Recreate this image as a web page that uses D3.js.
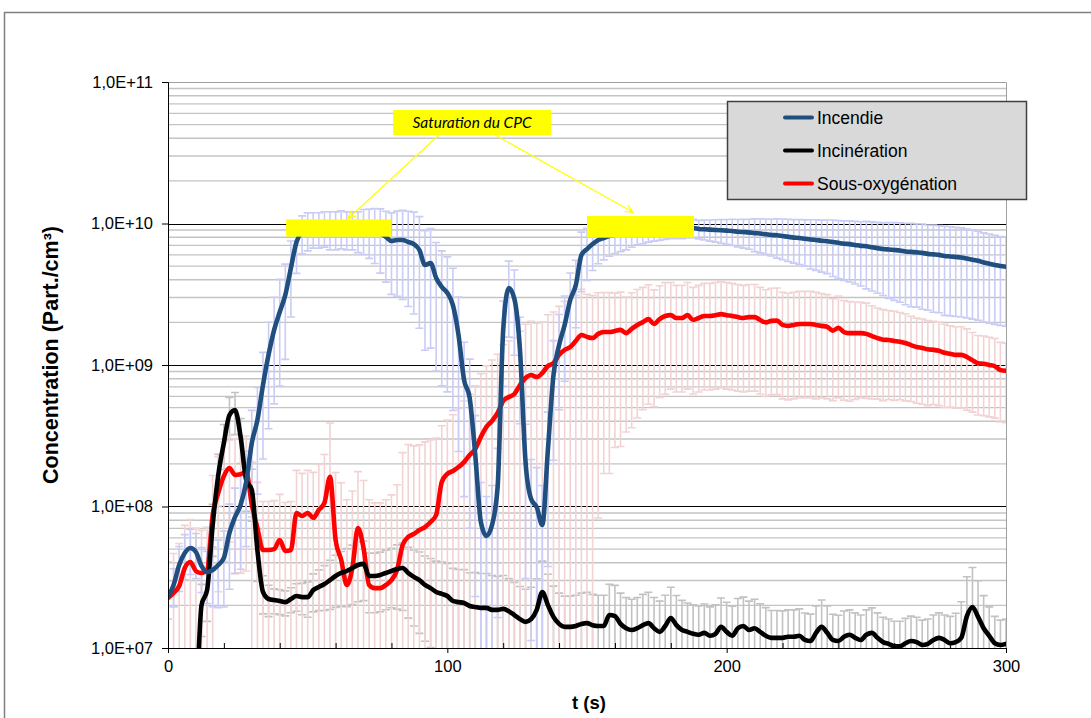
<!DOCTYPE html>
<html><head><meta charset="utf-8">
<script src="https://cdn.jsdelivr.net/npm/d3@7"></script>
<style>body{margin:0;background:#fff} svg{display:block}</style>
</head><body>
<svg id="c" width="1091" height="718"></svg>
<script>
// ---------- DATA ----------
const times = [0,2,4,6,8,10,12,14,16,18,20,22,24,26,28,30,32,34,36,38,40,42,44,46,48,50,52,54,56,58,60,62,64,66,68,70,72,74,76,78,80,82,84,86,88,90,92,94,96,98,100,102,104,106,108,110,112,114,116,118,120,122,124,126,128,130,132,134,136,138,140,142,144,146,148,150,152,154,156,158,160,162,164,166,168,170,172,174,176,178,180,182,184,186,188,190,192,194,196,198,200,202,204,206,208,210,212,214,216,218,220,222,224,226,228,230,232,234,236,238,240,242,244,246,248,250,252,254,256,258,260,262,264,266,268,270,272,274,276,278,280,282,284,286,288,290,292,294,296,298,300];

const seriesNames = ["Incendie","Incinération","Sous-oxygénation"];

const incendie = [
2.29e7,2.79e7,3.86e7,4.69e7,5.09e7,4.77e7,3.8e7,3.44e7,3.56e7,3.86e7,
4.33e7,6.5e7,8.43e7,1.03e8,1.49e8,2.81e8,4.08e8,7.22e8,1.18e9,1.77e9,
2.37e9,3.13e9,4.85e9,7.4e9,8.71e9,9.15e9,9.3e9,9.3e9,9.45e9,9.3e9,
9.3e9,9.45e9,9.3e9,9.3e9,9.15e9,9.3e9,9.15e9,9.0e9,8.57e9,8.03e9,
7.52e9,7.64e9,7.64e9,7.4e9,7.16e9,6.5e9,5.09e9,5.26e9,4.12e9,3.56e9,
3.23e9,2.65e9,1.63e9,7.83e8,5.85e8,2.31e8,7.77e7,6.19e7,7.4e7,1.37e8,
1.77e9,3.5e9,2.93e9,1.28e9,2.06e8,1.13e8,9.9e7,7.4e7,2.51e8,8.5e8,
1.38e9,1.92e9,2.88e9,3.67e9,5.99e9,6.6e9,7.16e9,7.64e9,7.9e9,8.16e9,
8.3e9,8.44e9,8.57e9,8.71e9,8.85e9,9.0e9,9.0e9,9.15e9,9.15e9,9.3e9,
9.3e9,9.3e9,9.3e9,9.3e9,9.3e9,9.15e9,9.1e9,9.05e9,9.0e9,8.95e9,
8.9e9,8.85e9,8.75e9,8.7e9,8.65e9,8.55e9,8.5e9,8.4e9,8.3e9,8.25e9,
8.15e9,8.05e9,7.95e9,7.9e9,7.8e9,7.7e9,7.65e9,7.55e9,7.5e9,7.4e9,
7.3e9,7.2e9,7.15e9,7.05e9,6.95e9,6.9e9,6.8e9,6.7e9,6.6e9,6.55e9,
6.5e9,6.45e9,6.35e9,6.3e9,6.25e9,6.2e9,6.1e9,6.05e9,6.0e9,5.9e9,
5.85e9,5.8e9,5.75e9,5.65e9,5.55e9,5.45e9,5.3e9,5.2e9,5.1e9,5.0e9,
4.95e9];

const incineration = [
5e6,5e6,5e6,5e6,5e6,5e6,2.01e7,2.57e7,7.4e7,1.67e8,
2.81e8,4.43e8,4.81e8,3.1e8,1.54e8,1.31e8,4.93e7,2.49e7,2.22e7,2.18e7,
2.15e7,2.11e7,2.22e7,2.33e7,2.29e7,2.29e7,2.57e7,2.7e7,2.83e7,3.02e7,
3.23e7,3.39e7,3.5e7,3.68e7,3.86e7,3.93e7,3.23e7,3.23e7,3.28e7,3.39e7,
3.5e7,3.62e7,3.68e7,3.39e7,3.18e7,3.02e7,2.79e7,2.65e7,2.49e7,2.41e7,
2.33e7,2.15e7,2.11e7,2.08e7,1.98e7,1.95e7,1.92e7,1.92e7,1.86e7,1.86e7,
1.89e7,1.82e7,1.71e7,1.6e7,1.53e7,1.6e7,1.86e7,2.49e7,2.01e7,1.66e7,
1.48e7,1.41e7,1.41e7,1.43e7,1.48e7,1.5e7,1.45e7,1.43e7,1.43e7,1.71e7,
1.68e7,1.48e7,1.38e7,1.34e7,1.38e7,1.45e7,1.5e7,1.38e7,1.3e7,1.43e7,
1.63e7,1.45e7,1.34e7,1.3e7,1.26e7,1.24e7,1.28e7,1.22e7,1.26e7,1.41e7,
1.3e7,1.22e7,1.38e7,1.43e7,1.34e7,1.38e7,1.3e7,1.22e7,1.18e7,1.18e7,
1.18e7,1.2e7,1.2e7,1.22e7,1.14e7,1.12e7,1.28e7,1.41e7,1.28e7,1.14e7,
1.12e7,1.2e7,1.24e7,1.18e7,1.14e7,1.24e7,1.28e7,1.18e7,1.1e7,1.07e7,
1.03e7,1.03e7,1.08e7,1.12e7,1.1e7,1.05e7,1.07e7,1.14e7,1.18e7,1.14e7,
1.08e7,1.1e7,1.18e7,1.68e7,1.95e7,1.66e7,1.38e7,1.22e7,1.08e7,1.05e7,
1.07e7];

const sousOxygenation = [
2.26e7,2.45e7,2.74e7,3.68e7,4.05e7,3.5e7,3.39e7,3.56e7,8.71e7,1.25e8,
1.64e8,1.87e8,1.67e8,1.69e8,1.75e8,1.03e8,7.05e7,4.93e7,4.93e7,5.0e7,
5.8e7,4.85e7,4.93e7,9.0e7,8.57e7,9.0e7,8.3e7,9.45e7,1.06e8,1.62e8,
5.8e7,4.2e7,2.79e7,3.68e7,7.05e7,5.09e7,2.79e7,2.65e7,2.65e7,2.79e7,
3.02e7,3.56e7,5.34e7,6.09e7,6.39e7,6.82e7,7.16e7,7.77e7,8.71e7,1.49e8,
1.70e8,1.78e8,1.90e8,2.06e8,2.31e8,2.55e8,3.10e8,3.65e8,4.02e8,4.58e8,
5.57e8,5.94e8,6.24e8,7.22e8,8.09e8,8.5e8,8.22e8,8.77e8,9.84e8,1.03e9,
1.18e9,1.28e9,1.34e9,1.48e9,1.63e9,1.58e9,1.55e9,1.66e9,1.71e9,1.71e9,
1.74e9,1.77e9,1.68e9,1.80e9,1.92e9,2.01e9,2.11e9,1.95e9,2.11e9,2.22e9,
2.25e9,2.15e9,2.15e9,2.25e9,2.08e9,2.15e9,2.22e9,2.22e9,2.25e9,2.29e9,
2.25e9,2.22e9,2.18e9,2.15e9,2.18e9,2.18e9,2.08e9,2.0e9,2.05e9,2.06e9,
1.92e9,1.89e9,1.92e9,1.95e9,1.95e9,1.95e9,1.92e9,1.89e9,1.86e9,1.75e9,
1.83e9,1.71e9,1.68e9,1.68e9,1.68e9,1.66e9,1.6e9,1.55e9,1.51e9,1.5e9,
1.48e9,1.46e9,1.43e9,1.38e9,1.34e9,1.32e9,1.29e9,1.28e9,1.26e9,1.22e9,
1.2e9,1.18e9,1.18e9,1.14e9,1.08e9,1.03e9,1.02e9,1.0e9,9.8e8,9.2e8,
9.1e8];

// relative standard deviation (error bar half-length / value)
const incendieErr = [
0.3,0.3,0.35,0.35,0.35,0.35,0.35,0.4,0.45,0.5,
0.55,0.6,0.6,0.65,0.65,0.7,0.7,0.7,0.7,0.7,
0.7,0.65,0.55,0.4,0.3,0.3,0.28,0.28,0.28,0.3,
0.3,0.3,0.3,0.3,0.32,0.35,0.38,0.42,0.48,0.52,
0.58,0.6,0.62,0.65,0.68,0.72,0.75,0.75,0.78,0.8,
0.8,0.82,0.85,0.85,0.88,0.9,0.9,0.9,0.9,0.88,
0.6,0.55,0.6,0.7,0.85,0.9,0.9,0.9,0.85,0.75,
0.65,0.6,0.55,0.5,0.45,0.4,0.35,0.32,0.3,0.28,
0.26,0.25,0.24,0.22,0.2,0.2,0.18,0.18,0.17,0.17,
0.16,0.16,0.16,0.15,0.15,0.15,0.16,0.17,0.18,0.19,
0.2,0.21,0.22,0.23,0.24,0.26,0.27,0.28,0.29,0.31,
0.32,0.33,0.34,0.35,0.36,0.38,0.39,0.4,0.41,0.43,
0.44,0.45,0.46,0.47,0.48,0.5,0.51,0.52,0.53,0.55,
0.56,0.57,0.58,0.59,0.59,0.6,0.6,0.61,0.61,0.62,
0.62,0.62,0.62,0.62,0.62,0.62,0.62,0.62,0.62,0.62,
0.62];

const incinerationErr = [
0.3,0.3,0.3,0.3,0.3,0.3,0.4,0.4,0.4,0.4,
0.35,0.33,0.33,0.35,0.4,0.4,0.4,0.3,0.25,0.2,
0.2,0.2,0.2,0.22,0.25,0.28,0.3,0.32,0.35,0.38,
0.4,0.42,0.44,0.45,0.45,0.45,0.45,0.45,0.45,0.45,
0.45,0.48,0.5,0.52,0.55,0.58,0.6,0.62,0.65,0.68,
0.7,0.7,0.7,0.72,0.72,0.75,0.75,0.75,0.75,0.72,
0.72,0.7,0.7,0.7,0.7,0.68,0.66,0.65,0.65,0.65,
0.65,0.65,0.65,0.65,0.65,0.65,0.65,0.65,0.65,0.65,
0.65,0.65,0.65,0.65,0.65,0.65,0.65,0.65,0.65,0.65,
0.65,0.62,0.62,0.6,0.6,0.6,0.6,0.6,0.6,0.6,
0.62,0.62,0.62,0.6,0.6,0.6,0.58,0.58,0.56,0.56,
0.55,0.55,0.55,0.55,0.55,0.55,0.55,0.55,0.55,0.52,
0.52,0.52,0.5,0.5,0.5,0.5,0.5,0.5,0.5,0.5,
0.5,0.5,0.5,0.5,0.5,0.5,0.5,0.5,0.5,0.5,
0.55,0.6,0.8,0.9,0.9,0.8,0.7,0.6,0.55,0.5,
0.5];

const sousOxygenationErr = [
0.8,0.9,1.0,1.0,1.0,1.0,1.0,1.0,0.9,0.8,
0.75,0.7,0.8,0.8,0.8,1.0,1.1,1.2,1.2,1.2,
1.1,1.2,1.2,1.0,1.0,1.0,1.1,1.1,1.2,1.4,
2.0,2.5,3.0,2.5,1.5,2.0,3.0,3.0,3.0,3.0,
3.0,3.0,3.5,3.5,3.2,3.0,3.0,2.8,2.5,1.5,
1.4,1.5,1.6,1.7,1.7,1.8,1.8,1.7,1.7,1.6,
1.5,1.5,1.5,1.4,1.4,1.4,1.4,1.3,1.3,1.3,
1.2,1.2,1.2,1.1,1.1,1.0,1.0,0.95,0.9,0.9,
0.85,0.85,0.8,0.8,0.78,0.76,0.75,0.74,0.72,0.72,
0.7,0.7,0.7,0.7,0.7,0.7,0.7,0.7,0.7,0.7,
0.7,0.7,0.7,0.7,0.7,0.7,0.7,0.7,0.7,0.7,
0.7,0.7,0.7,0.7,0.7,0.7,0.7,0.69,0.69,0.68,
0.68,0.67,0.67,0.66,0.65,0.65,0.64,0.63,0.63,0.62,
0.62,0.61,0.61,0.6,0.6,0.6,0.6,0.59,0.59,0.59,
0.58,0.58,0.58,0.58,0.57,0.57,0.57,0.57,0.57,0.57,
0.57];

const yTickValues = [1e7,1e8,1e9,1e10,1e11];
const yTickLabels = ["1,0E+07","1,0E+08","1,0E+09","1,0E+10","1,0E+11"];
const xTickValues = [0,100,200,300];
const xTickLabels = ["0","100","200","300"];
const xMinorTicks = [20,40,60,80,120,140,160,180,220,240,260,280];

// annotation in data units: [t0, t1, vTop, vBottom]
const saturationBoxes = [[42.3,79.8,1.07e10,8.07e9],[150,188.3,1.13e10,7.94e9]];
const annotationLabel = {text:"Saturation du CPC", box:[80.6,137.1,6.34e10,4.22e10]};
const annotationArrows = [[97.0,4.22e10,64.4,1.08e10],[117.1,4.22e10,166.5,1.2e10]];

// ---------- DRAW ----------
const svg = d3.select("#c");
const L=168,R=1006,T=82,B=648;
const x = d3.scaleLinear().domain([0,300]).range([L,R]);
const y = d3.scaleLog().domain([1e7,1e11]).range([B,T]);

// outer chart border
svg.append("path").attr("d","M4.5,720 V12.5 H1095").attr("fill","none")
  .attr("stroke","#7f7f7f").attr("stroke-width",1.5);

svg.append("defs").append("clipPath").attr("id","clip")
  .append("rect").attr("x",L).attr("y",T).attr("width",R-L).attr("height",B-T);

// minor gridlines
const minor = y.ticks().filter(v => !yTickValues.some(t => Math.abs(t-v)/t < 1e-6));
svg.append("g").selectAll("line").data(minor).join("line")
  .attr("x1",L).attr("x2",R).attr("y1",d=>y(d)).attr("y2",d=>y(d))
  .attr("stroke","#c4c4c4").attr("stroke-width",1.4);
// major gridlines
svg.append("g").selectAll("line").data([1e8,1e9,1e10]).join("line")
  .attr("x1",L).attr("x2",R).attr("y1",d=>Math.round(y(d))+0.5).attr("y2",d=>Math.round(y(d))+0.5)
  .attr("stroke","#000").attr("stroke-width",1);
// plot border top/right
svg.append("path").attr("d",`M${L},${T+0.5} H${R+0.5} V${B}`).attr("fill","none")
  .attr("stroke","#a0a0a0").attr("stroke-width",1);

const plot = svg.append("g").attr("clip-path","url(#clip)");

const series = [
  {name:seriesNames[0], vals:incendie, err:incendieErr, color:"#1f4e7f", ecolor:"#c9ccf6"},
  {name:seriesNames[1], vals:incineration, err:incinerationErr, color:"#000000", ecolor:"#c2c2c2"},
  {name:seriesNames[2], vals:sousOxygenation, err:sousOxygenationErr, color:"#ff0000", ecolor:"#f2d3d3"}
];

// error bars
const cap = 4;
[series[1], series[2], series[0]].forEach(s => {
  let d = "";
  times.forEach((t,i) => {
    const v = s.vals[i], e = v*s.err[i];
    const up = v+e, lo = v-e;
    const xp = x(t);
    const yu = y(up);
    const yl = lo > 1e6 ? y(lo) : B+40;
    d += `M${xp},${yl}V${yu}M${xp-cap},${yu}H${xp+cap}`;
    if (lo >= 1e7) d += `M${xp-cap},${yl}H${xp+cap}`;
  });
  plot.append("path").attr("d",d).attr("fill","none").attr("stroke",s.ecolor).attr("stroke-width",1.6);
});

// lines
const line = d3.line().x((d,i)=>x(times[i])).y(d=>y(d)).curve(d3.curveMonotoneX);
[series[2], series[1], series[0]].forEach(s => {
  plot.append("path").datum(s.vals).attr("d",line).attr("fill","none")
    .attr("stroke",s.color).attr("stroke-width",4.6)
    .attr("stroke-linejoin","round").attr("stroke-linecap","round");
});

// axes
const fontAx = "'Liberation Sans', Arial, sans-serif";
const yAxis = svg.append("g").attr("transform",`translate(${L},0)`)
  .call(d3.axisLeft(y).tickValues(yTickValues).tickFormat((d,i)=>yTickLabels[i]).tickSize(6).tickPadding(9));
const xAxis = svg.append("g").attr("transform",`translate(0,${B})`)
  .call(d3.axisBottom(x).tickValues(xTickValues).tickFormat((d,i)=>xTickLabels[i]).tickSize(5).tickPadding(7));
svg.append("g").attr("transform",`translate(0,${B})`)
  .call(d3.axisBottom(x).tickValues(xMinorTicks).tickFormat("").tickSize(-5))
  .call(g=>g.select(".domain").remove());
[yAxis,xAxis].forEach(g=>{
  g.selectAll("text").attr("font-family",fontAx).attr("font-size",16.5).attr("fill","#000");
  g.select(".domain").attr("stroke","#000");
});
svg.selectAll(".tick line").attr("stroke","#000");

// axis titles
svg.append("text").attr("transform","translate(58,355) rotate(-90)")
  .attr("text-anchor","middle").attr("font-family",fontAx).attr("font-weight","bold")
  .attr("font-size",21.5).text("Concentration (Part./cm³)");
svg.append("text").attr("x",589).attr("y",709).attr("text-anchor","middle")
  .attr("font-family",fontAx).attr("font-weight","bold").attr("font-size",18.5).text("t (s)");

// saturation boxes
svg.append("g").selectAll("rect").data(saturationBoxes).join("rect")
  .attr("x",d=>x(d[0])).attr("width",d=>x(d[1])-x(d[0]))
  .attr("y",d=>y(d[2])).attr("height",d=>y(d[3])-y(d[2])).attr("fill","#ffff00");

// annotation label
const lb = annotationLabel.box;
svg.append("rect").attr("x",x(lb[0])).attr("y",y(lb[2])).attr("width",x(lb[1])-x(lb[0]))
  .attr("height",y(lb[3])-y(lb[2])).attr("fill","#ffff00");
svg.append("text").attr("x",(x(lb[0])+x(lb[1]))/2).attr("y",(y(lb[2])+y(lb[3]))/2+5)
  .attr("text-anchor","middle").attr("font-family","Lato, 'Open Sans', sans-serif")
  .attr("font-style","italic").attr("font-size",15.5).text(annotationLabel.text);

// arrows
annotationArrows.forEach(a=>{
  const x1=x(a[0]), y1=y(a[1]), x2=x(a[2]), y2=y(a[3]);
  const ang = Math.atan2(y2-y1,x2-x1), h=9, w=0.42;
  const p1=[x2-h*Math.cos(ang-w), y2-h*Math.sin(ang-w)];
  const p2=[x2-h*Math.cos(ang+w), y2-h*Math.sin(ang+w)];
  svg.append("path").attr("d",`M${x1},${y1}L${x2},${y2}M${p1}L${x2},${y2}L${p2}`)
    .attr("fill","none").attr("stroke","#ffff00").attr("stroke-width",1.2);
});

// legend
const lg = svg.append("g");
lg.append("rect").attr("x",727.5).attr("y",101.5).attr("width",299).attr("height",98)
  .attr("fill","#d9d9d9").attr("stroke","#404040").attr("stroke-width",1.5);
series.forEach((s,i)=>{
  const yy = 117.5 + i*33;
  lg.append("line").attr("x1",785).attr("x2",812).attr("y1",yy).attr("y2",yy)
    .attr("stroke",s.color).attr("stroke-width",4).attr("stroke-linecap","round");
  lg.append("text").attr("x",817).attr("y",yy+6).attr("font-family",fontAx)
    .attr("font-size",17.5).text(s.name);
});
</script>
</body></html>
